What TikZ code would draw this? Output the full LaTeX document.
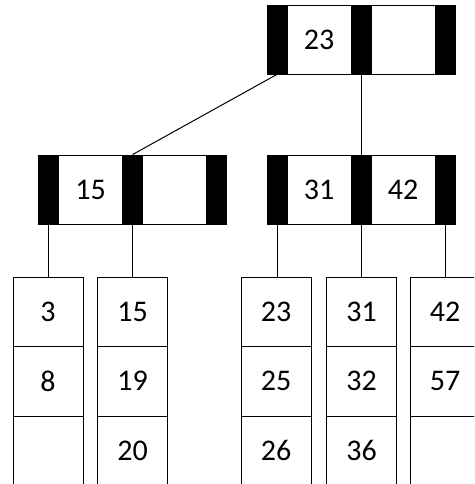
\documentclass[tikz,border=0pt]{standalone}
\usepackage{fontspec}
\setmainfont{Carlito}
\begin{document}
\begin{tikzpicture}[x=1pt,y=-1pt,
  bar/.style={draw=black, fill=black, minimum width=20pt, minimum height=69pt, inner sep=0pt, line width=0.8pt},
  cell/.style={draw=black, fill=white, minimum width=64pt, minimum height=69pt, inner sep=0pt, line width=0.8pt, font=\fontsize{30}{32}\selectfont},
  leaf/.style={draw=black, fill=white, minimum width=70pt, minimum height=69.5pt, inner sep=0pt, line width=0.9pt, font=\fontsize{30}{32}\selectfont},
  link/.style={draw=black, line width=1pt}]
\clip (0,0) rectangle (474,484);
% root
\node[bar]  (r1) at (277,39.5) {};
\node[cell] (rc1) at (319,39.5) {23};
\node[bar]  (r2) at (361,39.5) {};
\node[cell] (rc2) at (403,39.5) {};
\node[bar]  (r3) at (445,39.5) {};
% left internal
\node[bar]  (a1) at (48.5,189.5) {};
\node[cell] (ac1) at (90.5,189.5) {15};
\node[bar]  (a2) at (132.5,189.5) {};
\node[cell] (ac2) at (174.5,189.5) {};
\node[bar]  (a3) at (216.5,189.5) {};
% right internal
\node[bar]  (b1) at (277,189.5) {};
\node[cell] (bc1) at (319,189.5) {31};
\node[bar]  (b2) at (361,189.5) {};
\node[cell] (bc2) at (403,189.5) {42};
\node[bar]  (b3) at (445,189.5) {};
% leaves
\foreach \n/\x/\p/\q/\s in {l1/48/3/8/, l2/132.5/15/19/20, l3/276/23/25/26, l4/361.5/31/32/36, l5/445/42/57/}{
  \node[leaf] (\n a) at (\x,311.75) {\p};
  \node[leaf] (\n b) at (\x,381.25) {\q};
  \node[leaf] (\n c) at (\x,450.75) {\s};
}
% connectors
\draw[link] (r1.south) -- (a2.north);
\draw[link] (r2.south) -- (b2.north);
\draw[link] (a1.south) -- (a1.south |- l1a.north);
\draw[link] (a2.south) -- (a2.south |- l2a.north);
\draw[link] (b1.south) -- (b1.south |- l3a.north);
\draw[link] (b2.south) -- (b2.south |- l4a.north);
\draw[link] (b3.south) -- (b3.south |- l5a.north);
\end{tikzpicture}
\end{document}
